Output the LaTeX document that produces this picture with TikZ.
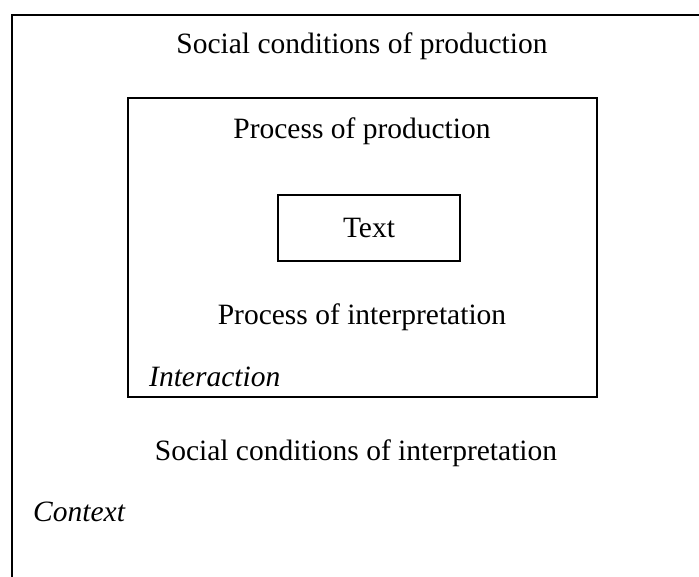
\documentclass[tikz,border=0pt]{standalone}
\usepackage{fontspec}
\setmainfont{Liberation Serif}
\begin{document}
\begin{tikzpicture}[x=1pt,y=-1pt,
  box/.style={draw=black,line width=1.6pt,inner sep=0pt},
  lbl/.style={inner sep=0pt,anchor=base,font=\fontsize{29.5}{35}\selectfont},
  ilbl/.style={inner sep=0pt,anchor=base west,font=\fontsize{29.5}{35}\selectfont\itshape}]
\useasboundingbox (0,0) rectangle (699,577);
\fill[white] (0,0) rectangle (699,577);
\begin{scope}
\clip (0,0) rectangle (699,577);
\node[box,minimum width=708pt,minimum height=585pt] (context) at (366,307.5) {};
\end{scope}
\node[box,minimum width=469pt,minimum height=299pt] (interaction) at (362.5,247.5) {};
\node[box,minimum width=182pt,minimum height=66pt,font=\fontsize{29.5}{35}\selectfont] (text) at (369,228) {Text};
\node[lbl] (scp) at (362,54) {Social conditions of production};
\node[lbl] (pp) at (362,139) {Process of production};
\node[lbl] (pi) at (362,325) {Process of interpretation};
\node[ilbl] (int) at (149,386) {Interaction};
\node[lbl] (sci) at (356,460) {Social conditions of interpretation};
\node[ilbl] (ctx) at (33,521) {Context};
\end{tikzpicture}
\end{document}
